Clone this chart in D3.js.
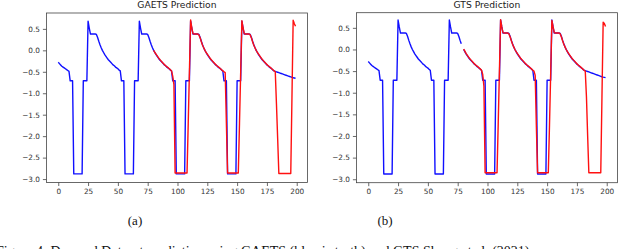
<!DOCTYPE html>
<html><head><meta charset="utf-8">
<script src="https://cdn.jsdelivr.net/npm/d3@7"></script>
<style>body{margin:0;background:#fff;overflow:hidden;} svg{display:block;}</style>
</head><body>
<svg id="chart" width="640" height="249"></svg>
<script>
// ---------------- data ----------------
const timeSteps = d3.range(200); // sample index 0..199

const groundTruth = [
  -0.28,-0.31,-0.34,-0.37,-0.39,-0.41,-0.43,-0.45,-0.47,-0.49,
  -0.71,-0.71,-0.71,-2.88,-2.88,-2.88,-2.88,-2.88,-2.88,-2.88,
  -2.88,-0.71,-0.71,-0.71,-0.71,0.68,0.52,0.38,0.38,0.38,
  0.38,0.38,0.37,0.30,0.21,0.13,0.06,0.00,-0.05,-0.10,
  -0.14,-0.18,-0.22,-0.25,-0.28,-0.31,-0.34,-0.36,-0.39,-0.41,
  -0.43,-0.46,-0.48,-0.71,-0.71,-0.71,-2.88,-2.88,-2.88,-2.88,
  -2.88,-2.88,-2.88,-2.88,-0.71,-0.71,-0.71,-0.71,0.68,0.52,
  0.38,0.38,0.38,0.38,0.38,0.37,0.30,0.21,0.13,0.06,
  0.00,-0.05,-0.10,-0.14,-0.18,-0.22,-0.25,-0.28,-0.31,-0.34,
  -0.36,-0.39,-0.41,-0.43,-0.46,-0.48,-0.71,-0.71,-0.71,-2.88,
  -2.88,-2.88,-2.88,-2.88,-2.88,-2.88,-2.88,-0.71,-0.71,-0.71,
  -0.71,0.68,0.52,0.38,0.38,0.38,0.38,0.38,0.37,0.30,
  0.21,0.13,0.06,0.00,-0.05,-0.10,-0.14,-0.18,-0.22,-0.25,
  -0.28,-0.31,-0.34,-0.36,-0.39,-0.41,-0.43,-0.46,-0.48,-0.71,
  -0.71,-0.71,-2.88,-2.88,-2.88,-2.88,-2.88,-2.88,-2.88,-2.88,
  -0.71,-0.71,-0.71,-0.71,0.68,0.52,0.38,0.38,0.38,0.38,
  0.38,0.37,0.30,0.21,0.13,0.06,0.00,-0.05,-0.10,-0.14,
  -0.18,-0.22,-0.25,-0.28,-0.31,-0.34,-0.36,-0.39,-0.41,-0.43,
  -0.46,-0.48,-0.49,-0.50,-0.51,-0.52,-0.53,-0.54,-0.55,-0.56,
  -0.57,-0.58,-0.59,-0.60,-0.61,-0.62,-0.63,-0.64,-0.645,-0.65
];

const predictionStart = 80; // first predicted sample

const gaetsPrediction = [ // t = 80..199
  0.00,-0.05,-0.09,-0.13,-0.17,-0.21,-0.24,-0.27,-0.30,-0.33,
  -0.36,-0.38,-0.40,-0.43,-0.45,-0.48,-0.60,-0.80,-2.86,-2.86,
  -2.86,-2.86,-2.86,-2.86,-2.86,-2.86,-2.86,-2.86,-2.86,-1.70,
  -0.50,0.71,0.52,0.39,0.38,0.38,0.38,0.38,0.36,0.29,
  0.20,0.12,0.06,0.00,-0.05,-0.09,-0.13,-0.17,-0.21,-0.24,
  -0.27,-0.30,-0.33,-0.36,-0.38,-0.40,-0.43,-0.45,-0.48,-0.50,
  -0.52,-1.70,-2.86,-2.86,-2.86,-2.86,-2.86,-2.86,-2.86,-2.86,
  -2.86,-2.86,-1.70,-0.50,0.69,0.52,0.39,0.38,0.38,0.38,
  0.38,0.36,0.29,0.20,0.12,0.06,0.00,-0.05,-0.09,-0.13,
  -0.17,-0.21,-0.24,-0.27,-0.30,-0.33,-0.36,-0.38,-0.40,-0.43,
  -0.45,-0.48,-0.50,-1.25,-2.05,-2.87,-2.87,-2.87,-2.87,-2.87,
  -2.87,-2.87,-2.87,-2.87,-2.87,-2.87,-1.10,0.70,0.62,0.56
];

const gtsPrediction = [ // t = 80..199
  0.01,-0.04,-0.09,-0.13,-0.17,-0.21,-0.24,-0.27,-0.30,-0.33,
  -0.36,-0.38,-0.40,-0.43,-0.45,-0.48,-0.58,-0.85,-2.85,-2.85,
  -2.85,-2.85,-2.85,-2.85,-2.85,-2.85,-2.85,-2.85,-2.85,-1.70,
  -0.50,0.69,0.52,0.39,0.38,0.38,0.38,0.38,0.36,0.29,
  0.20,0.12,0.06,0.00,-0.05,-0.09,-0.13,-0.17,-0.21,-0.24,
  -0.27,-0.30,-0.33,-0.36,-0.38,-0.40,-0.43,-0.45,-0.48,-0.50,
  -0.60,-1.80,-2.85,-2.85,-2.85,-2.85,-2.85,-2.85,-2.85,-2.85,
  -2.85,-2.85,-1.75,-0.55,0.67,0.52,0.39,0.38,0.38,0.38,
  0.38,0.36,0.29,0.20,0.12,0.06,0.00,-0.05,-0.09,-0.13,
  -0.17,-0.21,-0.24,-0.27,-0.30,-0.33,-0.36,-0.38,-0.40,-0.43,
  -0.45,-0.48,-0.50,-1.10,-2.00,-2.85,-2.85,-2.85,-2.85,-2.85,
  -2.85,-2.85,-2.85,-2.85,-2.85,-2.85,-1.10,0.63,0.60,0.53
];

const gtsTruthGap = [79]; // samples where the GTS panel's blue line is not drawn

const xTicks = [0, 25, 50, 75, 100, 125, 150, 175, 200];
const yTicks = [0.5, 0.0, -0.5, -1.0, -1.5, -2.0, -2.5, -3.0];
const panelTitles = ["GAETS Prediction", "GTS Prediction"];
const panelLabels = ["(a)", "(b)"];
const captionText = "Figure 4: Demand Dataset prediction using GAETS (blue is truth) and GTS Shang et al. (2021)";

// ---------------- layout ----------------
const panels = [
  {left: 46.4, right: 307.4, top: 13, bottom: 182.5, yDomain: [-3.08, 0.87], pred: gaetsPrediction, gap: [], labelX: 135},
  {left: 356.4, right: 617.4, top: 12.7, bottom: 182.7, yDomain: [-3.08, 0.85], pred: gtsPrediction, gap: gtsTruthGap, labelX: 385}
];
const xDomain = [-9.95, 208.95];
const svg = d3.select("#chart");
const fmt = v => (v < 0 ? "\u2212" : "") + Math.abs(v).toFixed(1);

panels.forEach((p, i) => {
  const x = d3.scaleLinear().domain(xDomain).range([p.left, p.right]);
  const y = d3.scaleLinear().domain(p.yDomain).range([p.bottom, p.top]);
  const g = svg.append("g");

  const truth = timeSteps.map(t => ({t, v: p.gap.includes(t) ? null : groundTruth[t]}));
  const pred = p.pred.map((v, k) => ({t: predictionStart + k, v}));
  const line = d3.line().defined(d => d.v !== null).x(d => x(d.t)).y(d => y(d.v));

  g.append("path").datum(truth).attr("d", line)
    .attr("fill", "none").attr("stroke", "#1010ff").attr("stroke-width", 1.4)
    .attr("stroke-linejoin", "round");
  g.append("path").datum(pred).attr("d", line)
    .attr("fill", "none").attr("stroke", "#ff1010").attr("stroke-width", 1.4)
    .attr("stroke-linejoin", "round");

  // frame
  g.append("rect").attr("x", p.left).attr("y", p.top)
    .attr("width", p.right - p.left).attr("height", p.bottom - p.top)
    .attr("fill", "none").attr("stroke", "#444").attr("stroke-width", 0.8);

  const xAxis = g.append("g").attr("transform", `translate(0,${p.bottom})`)
    .call(d3.axisBottom(x).tickValues(xTicks).tickSize(3.5).tickPadding(2.5).tickFormat(d3.format("d")));
  const yAxis = g.append("g").attr("transform", `translate(${p.left},0)`)
    .call(d3.axisLeft(y).tickValues(yTicks).tickSize(3.5).tickPadding(3).tickFormat(fmt));
  [xAxis, yAxis].forEach(a => {
    a.select(".domain").remove();
    a.selectAll("line").attr("stroke", "#444").attr("stroke-width", 0.8);
    a.selectAll("text").attr("fill", "#333").style("font-family", "DejaVu Sans").style("font-size", "7.3px");
  });

  g.append("text").attr("x", (p.left + p.right) / 2).attr("y", 8)
    .attr("text-anchor", "middle").style("font-family", "DejaVu Sans")
    .style("font-size", "9.2px").attr("fill", "#222").text(panelTitles[i]);

  svg.append("text").attr("x", p.labelX).attr("y", 225).attr("text-anchor", "middle")
    .style("font-family", "Liberation Serif").style("font-size", "13px").attr("fill", "#111")
    .text(panelLabels[i]);
});

svg.append("text").attr("x", -4).attr("y", 255.8)
  .style("font-family", "Liberation Serif").style("font-size", "14px").attr("fill", "#111")
  .text(captionText);
</script>
</body></html>
